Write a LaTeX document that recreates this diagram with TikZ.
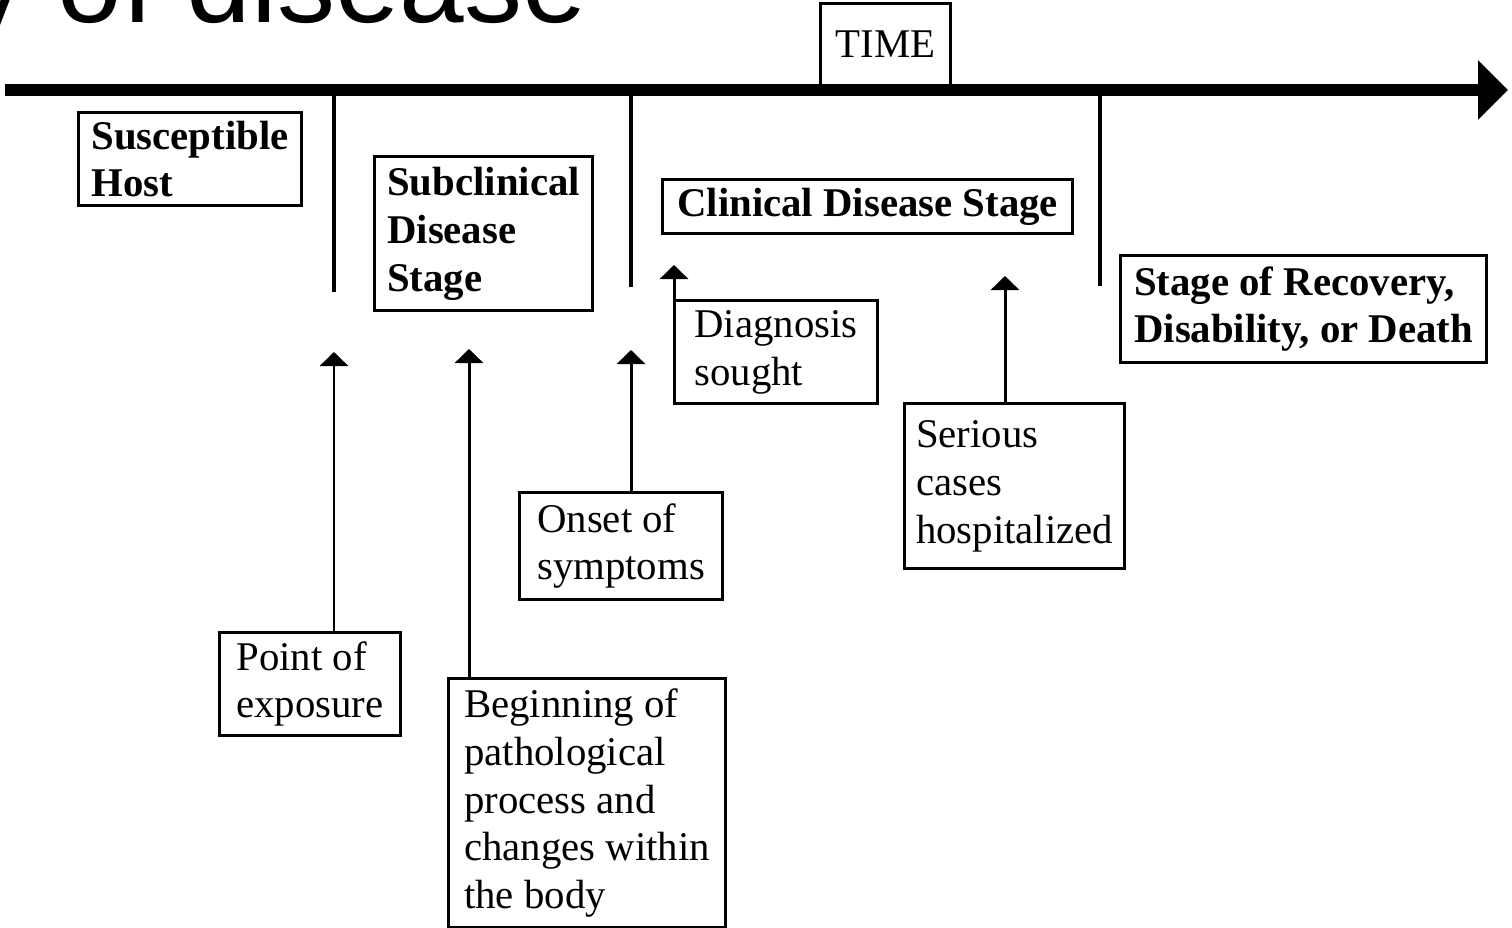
\documentclass[tikz,border=0pt]{standalone}
\usepackage{fontspec}
\setmainfont{Liberation Serif}
\newfontfamily\headfont{Liberation Sans}
\usepackage{tikz}
\usetikzlibrary{arrows.meta,calc}
\newcommand{\boxfont}{\fontsize{11.6}{13.6}\selectfont}

\begin{document}
\begin{tikzpicture}[x=0.01cm,y=-0.01cm,
  stagebox/.style={draw,line width=0.85pt,anchor=north west,inner xsep=0.1cm,inner ysep=0pt,align=left,font=\boxfont\bfseries},
  eventbox/.style={stagebox,font=\boxfont},
  tick/.style={line width=1.4pt},
  pointer/.style={line width=0.85pt,-{Triangle[width=0.28cm,length=0.14cm]}}]
\useasboundingbox (0,0) rectangle (1512,928);
\clip (0,0) rectangle (1512,928);
% cut-off heading
\node[anchor=base west,inner sep=0pt,font=\headfont\fontsize{33}{36}\selectfont] (head) at (-33,23) {y of disease};
% time axis
\coordinate (tstart) at (5,90);
\coordinate (tend) at (1508,90);
\draw[line width=3.4pt,-{Triangle[width=0.58cm,length=0.30cm]}] (tstart) -- (tend);
\node[draw,line width=0.85pt,anchor=north west,minimum width=1.30cm,minimum height=0.82cm,font=\boxfont] (time) at (819,2) {TIME};
\foreach \x/\y in {334/292, 631/287, 1100/286}{
  \draw[tick] (\x,90) -- (\x,\y);
}
% stages
\node[stagebox,minimum width=2.23cm,minimum height=0.93cm] (host) at (77,111) {Susceptible\\Host};
\node[stagebox,minimum width=2.18cm,minimum height=1.54cm] (subclin) at (373,155) {Subclinical\\Disease\\Stage};
\node[stagebox,minimum width=4.10cm,minimum height=0.54cm] (clinical) at (661,178) {Clinical Disease Stage};
\node[stagebox,minimum width=3.66cm,minimum height=1.07cm] (recovery) at (1119,254) {Stage of Recovery,\\Disability, or Death};
% events
\node[eventbox,minimum width=2.03cm,minimum height=1.03cm] (diag) at (673,299) {Diagnosis\\sought};
\node[eventbox,minimum width=2.20cm,minimum height=1.65cm] (serious) at (903,402) {Serious\\cases\\hospitalized};
\node[eventbox,minimum width=2.03cm,minimum height=1.07cm] (onset) at (518,491) {Onset of\\symptoms};
\node[eventbox,minimum width=1.81cm,minimum height=1.03cm] (expo) at (218,631) {Point of\\exposure};
\node[eventbox,minimum width=2.77cm,minimum height=2.49cm] (begin) at (447,677) {Beginning of\\pathological\\process and\\changes within\\the body};
% pointers to the axis
\coordinate (tipexpo) at (334,352);
\coordinate (tipbegin) at (469,349);
\coordinate (tiponset) at (631,350);
\coordinate (tipdiag) at (674,265);
\coordinate (tipserious) at (1005,276);
\draw[pointer] (expo.north -| tipexpo) -- (tipexpo);
\draw[pointer] (begin.north -| tipbegin) -- (tipbegin);
\draw[pointer] (onset.north -| tiponset) -- (tiponset);
\draw[pointer] (diag.north -| tipdiag) -- (tipdiag);
\draw[pointer] (serious.north -| tipserious) -- (tipserious);
\end{tikzpicture}
\end{document}
